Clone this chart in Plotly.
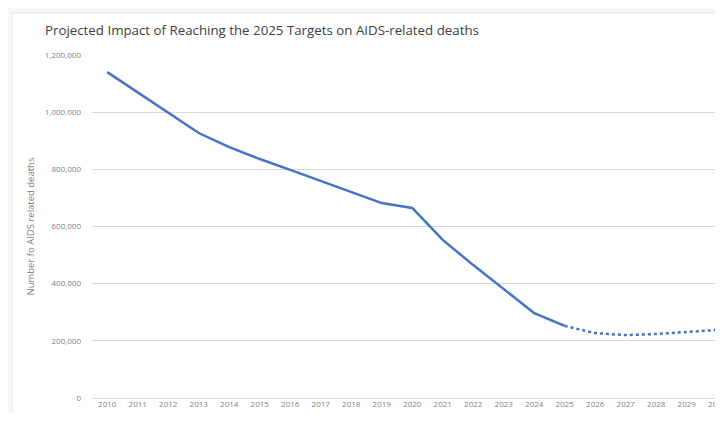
import plotly.graph_objects as go

years_actual = [2010, 2011, 2012, 2013, 2014, 2015, 2016, 2017, 2018, 2019, 2020, 2021, 2022, 2023, 2024, 2025]
deaths_actual = [1140000, 1070000, 1000000, 927000, 878000, 836000, 798000, 759000, 720000, 682000, 665000, 553000, 465000, 381000, 297000, 252000]
years_proj = [2025, 2026, 2027, 2028, 2029, 2030]
deaths_proj = [252000, 227000, 220000, 224000, 231000, 238000]
tick_years = list(range(2010, 2031))
y_ticks = [0, 200000, 400000, 600000, 800000, 1000000, 1200000]
y_tick_labels = ["0", "200,000", "400,000", "600,000", "800,000", "1,000,000", "1,200,000"]

W, H = 715, 405
L, T, B = 84, 47, 15
PW, PH = W - L, H - T - B

color = "#4472C4"
fig = go.Figure()
fig.add_trace(go.Scatter(x=years_actual, y=deaths_actual, mode="lines",
                         line=dict(color=color, width=2.5), showlegend=False))
fig.add_trace(go.Scatter(x=years_proj, y=deaths_proj, mode="lines",
                         line=dict(color=color, width=2.5, dash="dot"), showlegend=False))

fig.update_layout(
    width=W, height=H,
    margin=dict(l=L, r=0, t=T, b=B),
    paper_bgcolor="#f7f7f7",
    plot_bgcolor="white",
    font=dict(family="Open Sans, sans-serif", color="#7f7f7f"),
    title=dict(text="Projected Impact of Reaching the 2025 Targets on AIDS-related deaths",
               x=37/W, xanchor="left", y=1-22/H, yanchor="middle",
               font=dict(size=13.3, color="#404040")),
    shapes=[dict(type="rect", xref="paper", yref="paper",
                 x0=(4-L)/PW, x1=1.2, y0=-40/PH, y1=(H-B-5)/PH,
                 fillcolor="white", line=dict(color="#e6e6e6", width=1), layer="below")],
)
fig.update_xaxes(range=[2009.5, 2009.5 + PW/30.5], tickmode="array", tickvals=tick_years,
                 ticktext=[str(t) for t in tick_years], showgrid=False, zeroline=False,
                 showline=False, tickfont=dict(size=8, color="#7f7f7f"), ticks="",
                 ticklabeloverflow="allow", automargin=False)
fig.update_yaxes(range=[0, 1200000], tickmode="array", tickvals=y_ticks, ticktext=y_tick_labels,
                 showgrid=True, gridcolor="#d9d9d9", gridwidth=1,
                 zeroline=True, zerolinecolor="#d9d9d9", zerolinewidth=1,
                 tickfont=dict(size=8, color="#7f7f7f"), ticklabelstandoff=10,
                 automargin=False,
                 title=dict(text="Number fo AIDS related deaths", font=dict(size=9.5, color="#7f7f7f"),
                            standoff=8))

fig.write_html("out.html")
